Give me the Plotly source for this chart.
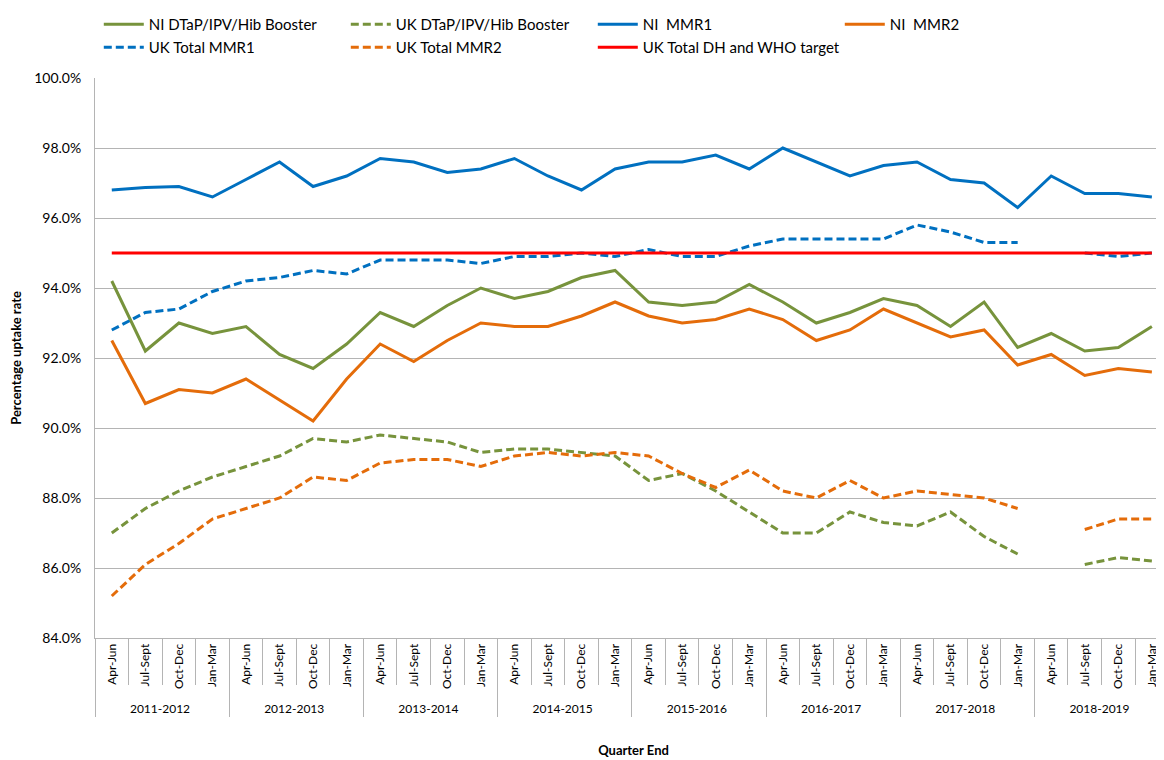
import plotly.graph_objects as go

## Data ----------------------------------------------------------------------------

years = ["2011-2012", "2012-2013", "2013-2014", "2014-2015",
         "2015-2016", "2016-2017", "2017-2018", "2018-2019"]
quarters = ["Apr-Jun", "Jul-Sept", "Oct-Dec", "Jan-Mar"]

x_year = [y for y in years for q in quarters]
x_quarter = [q for y in years for q in quarters]

ni_dtap = [94.2, 92.2, 93.0, 92.7, 92.9, 92.1, 91.7, 92.4, 93.3, 92.9, 93.5, 94.0,
           93.7, 93.9, 94.3, 94.5, 93.6, 93.5, 93.6, 94.1, 93.6, 93.0, 93.3, 93.7,
           93.5, 92.9, 93.6, 92.3, 92.7, 92.2, 92.3, 92.9]
uk_dtap = [87.0, 87.7, 88.2, 88.6, 88.9, 89.2, 89.7, 89.6, 89.8, 89.7, 89.6, 89.3,
           89.4, 89.4, 89.3, 89.2, 88.5, 88.7, 88.2, 87.6, 87.0, 87.0, 87.6, 87.3,
           87.2, 87.6, 86.9, 86.4, None, 86.1, 86.3, 86.2]
ni_mmr1 = [96.8, 96.87, 96.9, 96.6, 97.1, 97.6, 96.9, 97.2, 97.7, 97.6, 97.3, 97.4,
           97.7, 97.2, 96.8, 97.4, 97.6, 97.6, 97.8, 97.4, 98.0, 97.6, 97.2, 97.5,
           97.6, 97.1, 97.0, 96.3, 97.2, 96.7, 96.7, 96.6]
ni_mmr2 = [92.5, 90.7, 91.1, 91.0, 91.4, 90.8, 90.2, 91.4, 92.4, 91.9, 92.5, 93.0,
           92.9, 92.9, 93.2, 93.6, 93.2, 93.0, 93.1, 93.4, 93.1, 92.5, 92.8, 93.4,
           93.0, 92.6, 92.8, 91.8, 92.1, 91.5, 91.7, 91.6]
uk_mmr1 = [92.8, 93.3, 93.4, 93.9, 94.2, 94.3, 94.5, 94.4, 94.8, 94.8, 94.8, 94.7,
           94.9, 94.9, 95.0, 94.9, 95.1, 94.9, 94.9, 95.2, 95.4, 95.4, 95.4, 95.4,
           95.8, 95.6, 95.3, 95.3, None, 95.0, 94.9, 95.0]
uk_mmr2 = [85.2, 86.1, 86.7, 87.4, 87.7, 88.0, 88.6, 88.5, 89.0, 89.1, 89.1, 88.9,
           89.2, 89.3, 89.2, 89.3, 89.2, 88.7, 88.3, 88.8, 88.2, 88.0, 88.5, 88.0,
           88.2, 88.1, 88.0, 87.7, None, 87.1, 87.4, 87.4]
target = [95.0] * 32

GREEN = "#77933C"
BLUE = "#0070C0"
ORANGE = "#E46C0A"
RED = "#FF0000"
GRID = "#B4B4B4"
FONT = "Lato, Carlito, Calibri, sans-serif"

## Figure --------------------------------------------------------------------------

# name, values, colour, dash, legend row
series = [
    ("NI DTaP/IPV/Hib Booster", ni_dtap, GREEN, "solid", "legend"),
    ("UK DTaP/IPV/Hib Booster", uk_dtap, GREEN, "8px,4px", "legend"),
    ("NI  MMR1", ni_mmr1, BLUE, "solid", "legend"),
    ("NI  MMR2", ni_mmr2, ORANGE, "solid", "legend"),
    ("UK Total MMR1", uk_mmr1, BLUE, "8px,4px", "legend2"),
    ("UK Total MMR2", uk_mmr2, ORANGE, "8px,4px", "legend2"),
    ("UK Total DH and WHO target", target, RED, "solid", "legend2"),
]

fig = go.Figure()
for name, vals, col, dash, leg in series:
    fig.add_trace(go.Scatter(x=[x_year, x_quarter], y=vals, name=name, mode="lines",
                             legend=leg, line=dict(color=col, width=3, dash=dash)))

leg_common = dict(orientation="h", xref="container", xanchor="left", yref="container",
                  yanchor="top", entrywidth=192, font=dict(size=15), itemwidth=40)

fig.update_layout(
    width=1164, height=760,
    margin=dict(l=87, r=0, t=70, b=130, autoexpand=False),
    plot_bgcolor="white", paper_bgcolor="white",
    font=dict(family=FONT, size=13, color="#000000"),
    legend=dict(x=0.078, y=1.0, **leg_common),
    legend2=dict(x=0.078, y=1 - 23 / 760, **leg_common),
)

fig.update_yaxes(range=[84, 100], dtick=2, tickformat=".1f", ticksuffix="%",
                 showgrid=True, gridcolor=GRID, gridwidth=1,
                 showline=True, linecolor=GRID, zeroline=False,
                 ticks="", tickfont=dict(size=14), ticklabelstandoff=10, automargin=False,
                 title=dict(text="<b>Percentage uptake rate</b>", font=dict(size=13), standoff=18))
fig.update_xaxes(type="multicategory", range=[-0.5, 31.6], tickangle=-90,
                 showline=True, linecolor=GRID, automargin=False,
                 ticks="outside", tickson="boundaries", ticklen=46, tickcolor=GRID,
                 showdividers=True, dividercolor=GRID, dividerwidth=1,
                 showgrid=False, tickfont=dict(size=12),
                 title=dict(text="<b>Quarter End</b>", font=dict(size=13), standoff=30))

fig.write_html("out.html")
